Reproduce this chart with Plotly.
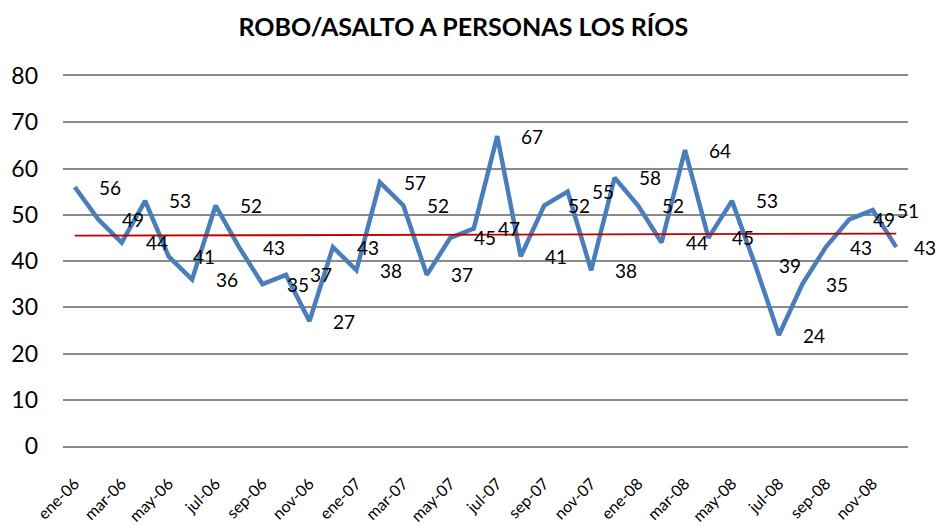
import numpy as np
import plotly.graph_objects as go

# Monthly cases, Jan 2006 – Dec 2008
months = [
    "ene-06", "feb-06", "mar-06", "abr-06", "may-06", "jun-06",
    "jul-06", "ago-06", "sep-06", "oct-06", "nov-06", "dic-06",
    "ene-07", "feb-07", "mar-07", "abr-07", "may-07", "jun-07",
    "jul-07", "ago-07", "sep-07", "oct-07", "nov-07", "dic-07",
    "ene-08", "feb-08", "mar-08", "abr-08", "may-08", "jun-08",
    "jul-08", "ago-08", "sep-08", "oct-08", "nov-08", "dic-08",
]
casos = [
    56, 49, 44, 53, 41, 36, 52, 43, 35, 37, 27, 43,
    38, 57, 52, 37, 45, 47, 67, 41, 52, 55, 38, 58,
    52, 44, 64, 45, 53, 39, 24, 35, 43, 49, 51, 43,
]
y_ticks = [0, 10, 20, 30, 40, 50, 60, 70, 80]

idx = np.arange(len(casos))

# Linear trend of the series
slope, intercept = np.polyfit(idx, casos, 1)
trend = slope * idx + intercept

FONT = "Lato"
BLUE = "#4a7ebb"
RED = "#c00000"
GRID = "#8a8a8a"

fig = go.Figure()

fig.add_trace(go.Scatter(
    x=idx, y=casos, mode="lines",
    line=dict(color=BLUE, width=4.5),
    hoverinfo="skip", showlegend=False,
))
fig.add_trace(go.Scatter(
    x=[idx[0], idx[-1]], y=[trend[0], trend[-1]], mode="lines",
    line=dict(color=RED, width=1.8),
    hoverinfo="skip", showlegend=False,
))

# Value labels to the right of each point
last = len(casos) - 1
for i, v in enumerate(casos):
    fig.add_annotation(
        x=i, y=v, text=str(v), showarrow=False,
        xanchor="left", yanchor="middle",
        xshift=16 if i == last else 22,
        font=dict(family=FONT, size=19, color="#000000"),
    )

fig.update_layout(
    width=936, height=526,
    margin=dict(l=63, r=28, t=76, b=80),
    paper_bgcolor="white", plot_bgcolor="white",
    title=dict(
        text="<b>ROBO/ASALTO A PERSONAS LOS RÍOS</b>",
        x=0.495, xanchor="center", y=0.948, yanchor="middle",
        font=dict(family=FONT, size=25, color="#000000"),
    ),
    xaxis=dict(
        range=[-0.5, len(casos) - 0.5],
        tickvals=idx[::2], ticktext=months[::2],
        tickangle=-45, showgrid=False, zeroline=False,
        showline=True, mirror=True, linecolor=GRID, linewidth=2,
        ticks="", automargin=False,
        ticklabelstandoff=20,
        tickfont=dict(family=FONT, size=16, color="#000000"),
    ),
    yaxis=dict(
        range=[0, 80], tickvals=y_ticks,
        showgrid=True, gridcolor=GRID, gridwidth=2,
        zeroline=True, zerolinecolor=GRID, zerolinewidth=2,
        showline=False, ticks="", automargin=False,
        ticklabelstandoff=24,
        tickfont=dict(family=FONT, size=23, color="#000000"),
    ),
)

fig.write_html("out.html")
